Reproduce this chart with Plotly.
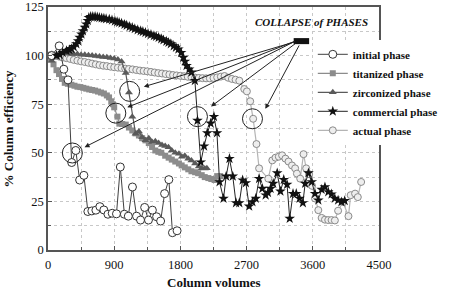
import plotly.graph_objects as go

# ---------------- data ----------------
initial_x = [50, 152, 215, 272, 322, 378, 430, 488, 542, 596, 651, 705, 759, 815, 873, 931, 983,
             1038, 1092, 1148, 1204, 1258, 1314, 1366, 1419, 1477, 1531, 1585, 1643, 1692, 1755]
initial_y = [100, 105, 93, 87.5, 45, 51.2, 36, 38.4, 19.8, 20.1, 20.5, 22.3, 20.6, 18.4, 18.9, 18.6, 42.7,
             18.4, 17.4, 32.4, 17.4, 15.4, 21.9, 15.4, 20.5, 17.1, 14.9, 29, 36.2, 8.9, 9.9]

titan_x = [0, 40, 75, 115, 150, 190, 228, 270, 318, 360, 400, 440, 480, 520, 560, 600, 640, 680, 720,
           760, 800, 830, 860, 880, 900, 944, 970, 1010, 1057, 1100, 1146, 1190, 1236, 1280, 1325, 1370,
           1415, 1459, 1500, 1540, 1593, 1640, 1683, 1730, 1780, 1817, 1860, 1907, 1950, 2000, 2041,
           2090, 2131, 2180, 2220, 2265, 2300, 2340]
titan_y = [100, 98, 95.5, 92.5, 90.5, 88, 86, 85.5, 85, 84.5, 84, 83.8, 83.4, 83, 82.6, 82.3, 82, 81.5, 81,
           80.5, 79.5, 78.5, 76.5, 75, 73.4, 68.6, 65, 64.8, 64.5, 63, 61.5, 60, 58.9, 57.5, 56.4, 55,
           53, 51.2, 50.5, 50, 48.5, 47.5, 46.5, 45.5, 44.5, 43.5, 42.5, 41.5, 40.5, 40, 39.5,
           38.5, 37.5, 37, 36.5, 36, 38, 38]

zircon_x = [0, 50, 100, 150, 200, 250, 300, 350, 400, 450, 500, 550, 600, 650, 700, 750, 800, 850, 900,
            950, 1000, 1057, 1101, 1146, 1191, 1236, 1280, 1325, 1370, 1415, 1459, 1504, 1550, 1593,
            1638, 1683, 1730, 1780, 1820, 1860, 1907, 1950, 2000, 2050, 2090, 2131, 2160]
zircon_y = [100, 97.3, 99.5, 101, 101.2, 101.2, 101, 100.8, 100.8, 100.5, 100.4, 100.2, 100, 99.8, 99.6,
            99.3, 99.1, 98.8, 98.5, 98, 97, 91, 81, 68.6, 59.8, 61, 58, 56.4, 57.5, 55.5, 56, 55, 54,
            53.5, 52.9, 51.2, 50, 49.5, 48, 48.5, 47, 46, 44.5, 43, 42, 41.9, 42]

comm_x = [116, 160, 200, 251, 290, 318, 350, 385, 410, 430, 455, 474, 500, 520, 540, 555, 580, 609, 640,
          670, 698, 730, 760, 790, 833, 870, 910, 940, 967, 1000, 1040, 1070, 1110, 1146, 1180, 1220,
          1260, 1290, 1325, 1360, 1400, 1440, 1470, 1504, 1540, 1570, 1610, 1638, 1670, 1710, 1740,
          1773, 1810, 1840, 1862, 1884, 1920, 1952, 1997, 2032, 2077, 2122, 2166, 2211, 2256, 2297,
          2332, 2386, 2422, 2467, 2512, 2556, 2601, 2646, 2690, 2735, 2780, 2825, 2870, 2914, 2959,
          2990, 3026, 3062, 3116, 3160, 3205, 3250, 3286, 3331, 3375, 3420, 3465, 3496, 3541, 3586,
          3630, 3675, 3720, 3765, 3810, 3855, 3899, 3944, 3989, 4034]
comm_y = [100, 100.5, 101.5, 102.5, 103, 103.5, 104.5, 106, 107.5, 109.3, 111, 112.7, 114.5, 116.2, 118,
          119.5, 120, 120, 120, 119.8, 119.5, 119.3, 119.1, 118.9, 118.7, 118.2, 117.7, 117.3, 117,
          116.6, 116, 115.5, 114.9, 114.4, 113.8, 113.2, 112.7, 112.3, 111.8, 111.3, 110.8, 110.2,
          109.8, 109.3, 108.6, 108, 107.3, 106.7, 106, 105, 104.2, 103.3, 101.5, 99, 97, 94.8, 93,
          91.4, 87.1, 66.6, 45.2, 53.4, 60.2, 65.2, 68.6, 60.2, 35, 26.5, 37.9, 47, 37.9, 24.2, 24.2,
          35.9, 34.5, 22.5, 24.7, 26.5, 36.7, 31.6, 28.2, 29.5, 31.6, 34.2, 39.6, 30.2, 36.2, 33.7,
          16.2, 29, 29, 26.5, 24.2, 34.2, 39.6, 35, 29, 25.6, 31.1, 32.4, 29.9, 28.7, 26.5, 25.6,
          24.7, 25.3]

actual_x = [0, 50, 100, 150, 200, 250, 300, 350, 400, 450, 500, 550, 600, 650, 700, 750, 800, 850, 900,
            950, 1000, 1050, 1100, 1150, 1200, 1250, 1300, 1350, 1400, 1450, 1500, 1550, 1600, 1650,
            1700, 1750, 1800, 1850, 1900, 1950, 2000, 2050, 2100, 2150, 2200, 2250, 2300, 2350, 2400,
            2450, 2500, 2550, 2601, 2668, 2704, 2749, 2789, 2834, 2870, 2995, 3049, 3093, 3138, 3183,
            3228, 3270, 3317, 3360, 3384, 3429, 3474, 3510, 3550, 3590, 3630, 3675, 3720, 3765, 3810,
            3855, 3900, 3944, 4010, 4085, 4115, 4175, 4212, 4257]
actual_y = [100, 100.5, 99.8, 99.5, 99, 98.7, 98.3, 97.8, 97.4, 97, 96.7, 96.3, 95.9, 95.5, 95.1, 94.8,
            94.6, 94.3, 94, 93.8, 93.6, 93.3, 93.1, 92.9, 92.6, 92.3, 92.1, 91.9, 91.6, 91.3, 91, 90.8,
            90.5, 90.3, 90, 89.8, 89.6, 89.4, 89.1, 88.9, 88.7, 88.5, 88.4, 88.3, 88.3, 88.5, 88.8,
            89.2, 89.5, 88.6, 88, 87.6, 87.1, 82.8, 81.6, 76.5, 67.5, 54.5, 42, 36.7, 46.1, 47.5, 48,
            48.7, 47, 45.5, 43.5, 42, 39.3, 36.7, 49.3, 42, 39, 33, 26.5, 20.5, 16.5, 15.6, 15.4, 15.4,
            15.2, 20.2, 24.7, 17.4, 28.2, 29, 27.2, 35]

x_ticks = [0, 900, 1800, 2700, 3600, 4500]
y_ticks = [0, 25, 50, 75, 100, 125]

# circled points (center x, y) and arrow heads / tails
circle_x = [331, 922, 1110, 2032, 2780]
circle_y = [49.9, 70.4, 81.6, 68.6, 67.5]
head_x = [497, 1078, 1303, 2216, 2955]
head_y = [52.9, 73.4, 84.0, 73.8, 72.6]
tail_x = [3370, 3370, 3375, 3385, 3425]
tail_y = [107.6, 107.6, 107.3, 106.8, 106.0]

FONT = "Liberation Serif"

fig = go.Figure()

fig.add_trace(go.Scatter(
    x=actual_x, y=actual_y, name="actual phase", mode="lines+markers",
    line=dict(color="#b4b4b4", width=1.2),
    marker=dict(symbol="circle", size=7, color="#eeeeee", line=dict(color="#8a8a8a", width=1)),
    legendrank=5))
fig.add_trace(go.Scatter(
    x=titan_x, y=titan_y, name="titanized phase", mode="lines+markers",
    line=dict(color="#8c8c8c", width=1.2),
    marker=dict(symbol="square", size=6, color="#8c8c8c"),
    legendrank=2))
fig.add_trace(go.Scatter(
    x=zircon_x, y=zircon_y, name="zirconized phase", mode="lines+markers",
    line=dict(color="#5a5a5a", width=1.2),
    marker=dict(symbol="triangle-up", size=7, color="#5a5a5a"),
    legendrank=3))
fig.add_trace(go.Scatter(
    x=initial_x, y=initial_y, name="initial phase", mode="lines+markers",
    line=dict(color="#404040", width=1),
    marker=dict(symbol="circle", size=8, color="white", line=dict(color="#333333", width=1)),
    legendrank=1))
fig.add_trace(go.Scatter(
    x=comm_x, y=comm_y, name="commercial phase", mode="lines+markers",
    line=dict(color="#222222", width=1),
    marker=dict(symbol="star", size=8, color="#111111", line=dict(width=0)),
    legendrank=4))

shapes = []
for cx, cy in zip(circle_x, circle_y):
    shapes.append(dict(type="circle", xref="x", yref="y", xsizemode="pixel", ysizemode="pixel",
                       xanchor=cx, yanchor=cy, x0=-10, x1=10, y0=-10, y1=10,
                       line=dict(color="#222222", width=1)))
# black block where arrows originate
shapes.append(dict(type="rect", xref="x", yref="y", x0=3340, x1=3550, y0=105.9, y1=109,
                   fillcolor="#111111", line=dict(width=0)))

annotations = []
for hx, hy, tx, ty in zip(head_x, head_y, tail_x, tail_y):
    annotations.append(dict(x=hx, y=hy, ax=tx, ay=ty, xref="x", yref="y", axref="x", ayref="y",
                            text="", showarrow=True, arrowhead=2, arrowsize=1, arrowwidth=1,
                            arrowcolor="#222222"))
annotations.append(dict(x=3588, y=117.5, xref="x", yref="y", text="<b><i>COLLAPSE of PHASES</i></b>",
                        showarrow=False, font=dict(family=FONT, size=11, color="#111111")))
# axis titles
annotations.append(dict(x=0.5, y=-0.132, xref="paper", yref="paper", text="<b>Column volumes</b>",
                        showarrow=False, xanchor="center", yanchor="middle",
                        font=dict(family=FONT, size=13, color="#111111")))
annotations.append(dict(x=-0.118, y=0.5, xref="paper", yref="paper", text="<b>% Column efficiency</b>",
                        showarrow=False, xanchor="center", yanchor="middle", textangle=-90,
                        font=dict(family=FONT, size=13, color="#111111")))

axis_common = dict(
    showline=True, linecolor="#555555", linewidth=1.5, mirror=True,
    ticks="inside", ticklen=4, tickcolor="#555555",
    showgrid=True, gridcolor="#c8c8c8", griddash="dot", gridwidth=1,
    zeroline=False, automargin=False,
    tickfont=dict(family=FONT, size=12.5, color="#111111"),
)

fig.update_layout(
    width=450, height=289,
    margin=dict(l=48, r=67, t=7, b=39),
    plot_bgcolor="white", paper_bgcolor="white",
    shapes=shapes, annotations=annotations,
    xaxis=dict(range=[0, 4500], tickvals=x_ticks, ticktext=[str(v) for v in x_ticks],
               ticklabelstandoff=2,
               minor=dict(dtick=450, tick0=0, showgrid=True, gridcolor="#c8c8c8", griddash="dot",
                          ticks="inside", ticklen=3, tickcolor="#555555"),
               **axis_common),
    yaxis=dict(range=[0, 125], tickvals=y_ticks, ticktext=[str(v) for v in y_ticks],
               minor=dict(dtick=12.5, tick0=0, showgrid=True, gridcolor="#c8c8c8", griddash="dot",
                          ticks="inside", ticklen=3, tickcolor="#555555"),
               **axis_common),
    legend=dict(x=0.80, y=0.865, xanchor="left", yanchor="top", bgcolor="white",
                font=dict(family=FONT, size=11, color="#111111", weight="bold"),
                tracegroupgap=0, itemwidth=30),
    showlegend=True,
)

fig.write_html("out.html", config={"displayModeBar": False},
               post_script="document.body.style.margin='0';document.body.style.padding='0';")
